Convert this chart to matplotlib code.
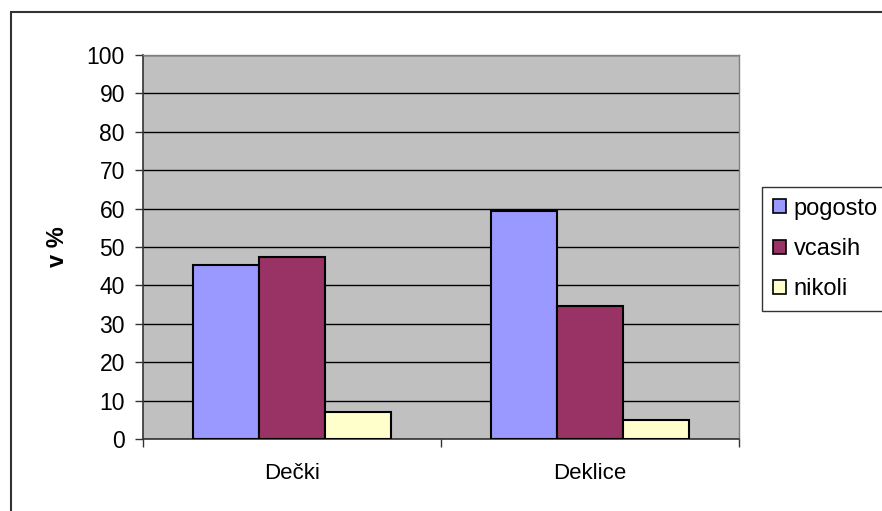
import numpy as np
import matplotlib.pyplot as plt
from matplotlib.patches import Rectangle

plt.rcParams['font.family'] = ['Liberation Sans', 'DejaVu Sans']

groups = ["Dečki", "Deklice"]
series = ["pogosto", "vcasih", "nikoli"]
pogosto = [45.3, 59.5]
vcasih = [47.4, 34.7]
nikoli = [7.0, 4.9]
colors = ["#9999FF", "#993366", "#FFFFCC"]

fig = plt.figure(figsize=(8.82, 5.11), dpi=100)
# chart area frame (right and bottom edges fall outside the image)
fig.patches.append(Rectangle((11 / 882, -0.05), 1.0, 1 - 12 / 511 + 0.05,
                             transform=fig.transFigure, fill=False,
                             edgecolor="#333333", linewidth=1.5))

ax = fig.add_axes([143 / 882, 1 - 439 / 511, 596 / 882, 384 / 511])
ax.set_facecolor("#C0C0C0")

x = np.arange(len(groups))
w = 1 / 4.5
for i, (name, vals) in enumerate(zip(series, [pogosto, vcasih, nikoli])):
    ax.bar(x + (i - 1) * w, vals, w, color=colors[i], edgecolor="black",
           linewidth=1.5, label=name, zorder=3)

ax.set_xlim(-0.5, 1.5)
ax.set_ylim(0, 100)
ax.set_yticks(range(0, 101, 10))
ax.yaxis.grid(True, color="black", linewidth=1, zorder=1)
ax.set_axisbelow(True)

ax.set_xticks(x)
ax.set_xticklabels(groups, fontsize=16)
ax.set_xticks([-0.5, 0.5, 1.5], minor=True)
ax.tick_params(axis="x", which="major", length=0, pad=17)
ax.tick_params(axis="x", which="minor", length=6, width=1, color="#333333")
ax.tick_params(axis="y", length=6, width=1, color="#333333", labelsize=16.5, pad=7)

for side in ["top", "right"]:
    ax.spines[side].set_color("#808080")
    ax.spines[side].set_linewidth(1)
for side in ["left", "bottom"]:
    ax.spines[side].set_color("#333333")
    ax.spines[side].set_linewidth(1.2)

ax.set_ylabel("v %", fontsize=17, fontweight="bold", labelpad=13)

leg = fig.legend(loc="upper left", bbox_to_anchor=(762 / 882, 1 - 187 / 511),
                 frameon=True, fancybox=False, edgecolor="black", fontsize=17,
                 handlelength=0.55, handleheight=0.55, handletextpad=0.35,
                 labelspacing=0.78, borderpad=0.45, borderaxespad=0)
leg.get_frame().set_linewidth(1)
for h in leg.legend_handles:
    h.set_linewidth(1.2)

fig.savefig("out.png", dpi=100, facecolor="white")
